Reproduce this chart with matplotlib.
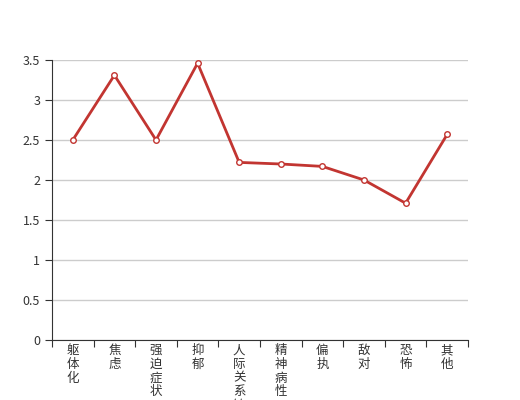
import matplotlib
matplotlib.use("Agg")
import matplotlib.pyplot as plt
from matplotlib.ticker import FixedLocator

plt.rcParams['font.family'] = ['Noto Sans CJK SC', 'DejaVu Sans']

categories = ["躯体化", "焦虑", "强迫症状", "抑郁", "人际关系敏感", "精神病性", "偏执", "敌对", "恐怖", "其他"]
values = [2.50, 3.31, 2.50, 3.46, 2.22, 2.20, 2.17, 2.00, 1.71, 2.57]
yticks = [0, 0.5, 1, 1.5, 2, 2.5, 3, 3.5]
ytick_labels = ["0", "0.5", "1", "1.5", "2", "2.5", "3", "3.5"]

fig = plt.figure(figsize=(5.2, 4.0), dpi=100)
ax = fig.add_axes([0.1, 0.15, 0.8, 0.70])

x = list(range(len(categories)))
ax.plot(x, values, color="#c23531", lw=2, marker="o", markersize=4,
        markerfacecolor="white", markeredgecolor="#c23531", markeredgewidth=1, zorder=3)

ax.set_xlim(-0.5, len(categories) - 0.5)
ax.set_ylim(0, 3.5)
ax.set_yticks(yticks)
ax.set_yticklabels(ytick_labels)
ax.yaxis.grid(True, color="#cccccc", lw=1)
ax.set_axisbelow(True)

ax.xaxis.set_major_locator(FixedLocator([i - 0.5 for i in range(len(categories) + 1)]))
ax.set_xticklabels([])
ax.xaxis.set_minor_locator(FixedLocator(x))
ax.set_xticklabels(["\n".join(c) for c in categories], minor=True)
ax.tick_params(axis="x", which="minor", length=0, pad=3, labelsize=9, labelcolor="#333333")
ax.tick_params(axis="x", which="major", length=5, color="#333333", direction="out")
for t in ax.get_xticklabels(minor=True):
    t.set_linespacing(1.07)
    t.set_verticalalignment("top")

ax.tick_params(axis="y", length=5, color="#333333", labelsize=9, labelcolor="#333333")

for s in ["top", "right"]:
    ax.spines[s].set_visible(False)
ax.spines["left"].set_color("#333333")
ax.spines["bottom"].set_color("#333333")

fig.savefig("out.png", dpi=100)
